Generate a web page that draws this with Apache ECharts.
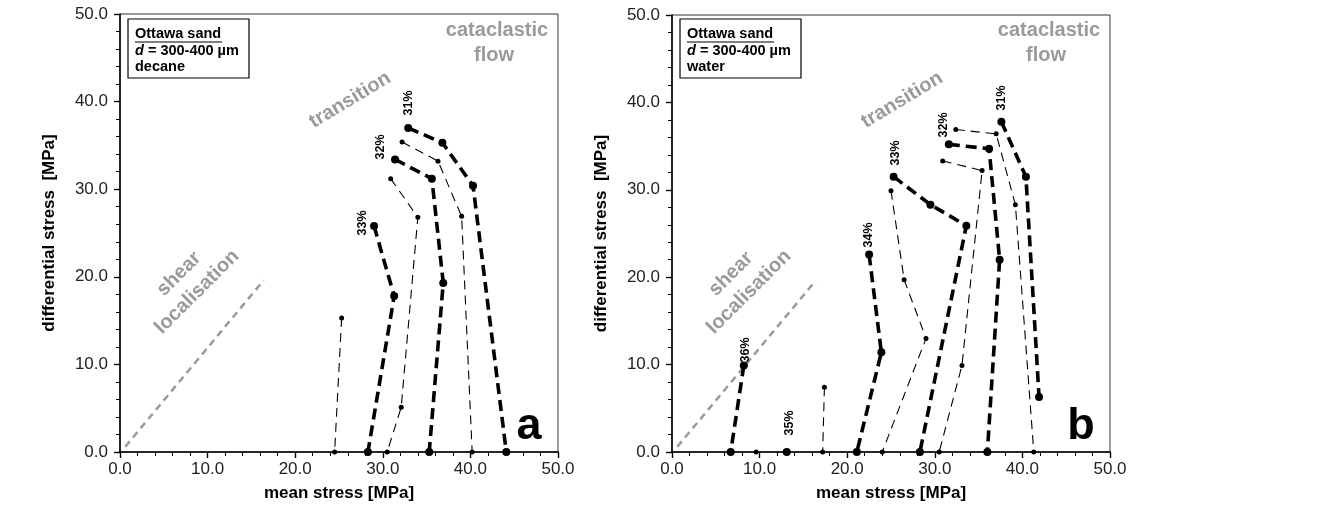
<!DOCTYPE html>
<html>
<head>
<meta charset="utf-8">
<script src="https://cdn.jsdelivr.net/npm/echarts@6/dist/echarts.min.js"></script>
<style>html,body{margin:0;padding:0;background:#fff}#c{width:1321px;height:507px}</style>
</head>
<body>
<div id="c"></div>
<script>
// ---------- data (mean stress [MPa], differential stress [MPa]) ----------
const tickValues = [0, 10, 20, 30, 40, 50];
const shearLine = [[0.6, 0.6], [16.4, 19.6]];

// panel a (decane)
const a33Thick = [[29.0, 25.8], [31.3, 17.8], [28.3, 0]];
const a25Thin  = [[25.3, 15.3], [24.5, 0]];
const a32Thin  = [[30.9, 31.2], [34.0, 26.8], [32.1, 5.1], [30.5, 0]];
const a32Thick = [[31.4, 33.4], [35.6, 31.2], [36.9, 19.3], [35.3, 0]];
const a31Thin  = [[32.2, 35.4], [36.3, 33.2], [39.0, 26.9], [40.2, 0]];
const a31Thick = [[32.9, 37.0], [36.8, 35.3], [40.3, 30.4], [44.1, 0]];

// panel b (water)
const b36Thick = [[8.2, 9.9], [6.7, 0]];
const b9Thin   = [[9.6, 0]];
const b35Thick = [[13.1, 0]];
const b17Thin  = [[17.4, 7.4], [17.2, 0]];
const b34Thick = [[22.5, 22.6], [23.9, 11.4], [21.1, 0]];
const b33Thin  = [[25.0, 29.9], [26.5, 19.7], [29.0, 13.0], [24.0, 0]];
const b33Thick = [[25.3, 31.5], [29.5, 28.3], [33.6, 25.9], [28.3, 0]];
const b32Thin  = [[30.9, 33.3], [35.4, 32.2], [33.1, 9.9], [30.5, 0]];
const b32Thick = [[31.6, 35.2], [36.2, 34.7], [37.4, 22.0], [36.0, 0]];
const b31Thin  = [[32.4, 36.9], [37.0, 36.4], [39.2, 28.3], [41.3, 0]];
const b31Thick = [[37.6, 37.8], [40.4, 31.5], [41.9, 6.3]];

const panelA = { thick: [a33Thick, a32Thick, a31Thick], thin: [a25Thin, a32Thin, a31Thin] };
const panelB = { thick: [b36Thick, b35Thick, b34Thick, b33Thick, b32Thick, b31Thick], thin: [b9Thin, b17Thin, b33Thin, b32Thin, b31Thin] };

const porosityA = ['33%', '32%', '31%'];
const porosityB = ['36%', '35%', '34%', '33%', '32%', '31%'];
const fluids = ['decane', 'water'];
const panelLetters = ['a', 'b'];

// ---------- layout ----------
const FONT = "'Liberation Sans', Arial, sans-serif";
const grids = [
  { left: 120, top: 14, width: 438, height: 438 },
  { left: 672, top: 15, width: 438, height: 437 }
];

function mainX(i) {
  return {
    gridIndex: i, type: 'value', min: 0, max: 50, interval: 10,
    name: 'mean stress [MPa]', nameLocation: 'middle', nameGap: 33,
    nameTextStyle: { fontFamily: FONT, fontWeight: 'bold', fontSize: 17, color: '#000' },
    axisLine: { show: true, onZero: false, lineStyle: { color: '#000', width: 1.5 } },
    axisTick: { show: true, inside: false, length: 6, lineStyle: { color: '#000', width: 1.2 } },
    minorTick: { show: true, splitNumber: 5, length: 4, lineStyle: { color: '#000', width: 1 } },
    axisLabel: { fontFamily: FONT, fontSize: 17, color: '#222', margin: 9, formatter: v => v.toFixed(1) },
    splitLine: { show: false }
  };
}
function mainY(i) {
  return {
    gridIndex: i, type: 'value', min: 0, max: 50, interval: 10,
    name: 'differential stress  [MPa]', nameLocation: 'middle', nameGap: 62, nameRotate: 90,
    nameTextStyle: { fontFamily: FONT, fontWeight: 'bold', fontSize: 17, color: '#000' },
    axisLine: { show: true, onZero: false, lineStyle: { color: '#000', width: 1.5 } },
    axisTick: { show: true, inside: false, length: 6, lineStyle: { color: '#000', width: 1.2 } },
    minorTick: { show: true, splitNumber: 5, length: 4, lineStyle: { color: '#000', width: 1 } },
    axisLabel: { fontFamily: FONT, fontSize: 17, color: '#222', margin: 12, formatter: v => v.toFixed(1) },
    splitLine: { show: false }
  };
}
function overlayAxis(i) {
  return {
    gridIndex: i, type: 'value', min: 0, max: 50, interval: 10,
    axisLine: { show: false },
    axisTick: { show: true, inside: true, length: 6, lineStyle: { color: '#000', width: 1.2 } },
    axisLabel: { show: false }, splitLine: { show: false }
  };
}

const series = [];
function addPanel(p, gi) {
  series.push({
    type: 'line', xAxisIndex: gi, yAxisIndex: gi, data: shearLine, symbol: 'none',
    lineStyle: { color: '#9a9a9a', width: 2.5, type: [7, 5] }, silent: true, z: 1
  });
  p.thin.forEach(d => series.push({
    type: 'line', xAxisIndex: gi, yAxisIndex: gi, data: d,
    symbol: 'circle', symbolSize: 5, showAllSymbol: true,
    itemStyle: { color: '#000' },
    lineStyle: { color: '#000', width: 1.1, type: [9, 6] }, z: 3
  }));
  p.thick.forEach(d => series.push({
    type: 'line', xAxisIndex: gi, yAxisIndex: gi, data: d,
    symbol: 'circle', symbolSize: 8, showAllSymbol: true,
    itemStyle: { color: '#000' },
    lineStyle: { color: '#000', width: 3.6, type: [11, 6] }, z: 4
  }));
}
addPanel(panelA, 0);
addPanel(panelB, 1);

// ---------- annotations ----------
const GRAY = '#9a9a9a';
function txt(text, x, y, opts) {
  opts = opts || {};
  return {
    type: 'text', x: x, y: y, rotation: opts.rot || 0, z: 10,
    style: {
      text: text, fill: opts.color || '#000',
      font: (opts.weight || 'bold') + ' ' + (opts.size || 20) + 'px ' + FONT,
      align: 'center', verticalAlign: 'middle', textAlign: 'center', textVerticalAlign: 'middle'
    }
  };
}
const graphics = [];
function annot(dx, labels, fluid, letter, labelPos) {
  graphics.push(txt('cataclastic', 497 + dx, 30, { color: GRAY }));
  graphics.push(txt('flow', 494 + dx, 55, { color: GRAY }));
  graphics.push(txt('transition', 350 + dx, 100, { color: GRAY, rot: 0.54 }));
  graphics.push(txt('shear', 179 + dx, 274, { color: GRAY, rot: 0.785 }));
  graphics.push(txt('localisation', 197 + dx, 292, { color: GRAY, rot: 0.785 }));
  graphics.push(txt(letter, 529 + dx, 427, { size: 45 }));
  labels.forEach((l, i) => graphics.push(txt(l, labelPos[i][0], labelPos[i][1], { size: 12.5, rot: Math.PI / 2 })));
  // info box
  const bx = 128 + dx, by = 19;
  graphics.push({ type: 'rect', z: 10, shape: { x: bx, y: by, width: 121, height: 59 },
    style: { fill: '#fff', stroke: '#000', lineWidth: 1.2 } });
  graphics.push({ type: 'text', z: 11, x: bx + 7, y: by + 7, style: {
    text: 'Ottawa sand\n{i|d} = 300-400 µm\n' + fluid,
    font: 'bold 14.5px ' + FONT, fill: '#000', lineHeight: 16.5,
    rich: { i: { fontStyle: 'italic', fontWeight: 'bold', fontSize: 14.5, fontFamily: FONT } }
  } });
  graphics.push({ type: 'line', z: 11, shape: { x1: bx + 7, y1: by + 23, x2: bx + 94, y2: by + 23 },
    style: { stroke: '#000', lineWidth: 1.2 } });
}
annot(0, porosityA, fluids[0], panelLetters[0], [[363, 223], [381, 147], [409, 103]]);
annot(552, porosityB, fluids[1], panelLetters[1], [[746, 350], [790, 423], [869, 235], [896, 153], [944, 125], [1002, 98]]);

const chart = echarts.init(document.getElementById('c'), null, { renderer: 'canvas' });
chart.setOption({
  animation: false,
  backgroundColor: '#fff',
  grid: grids.map(g => Object.assign({ show: true, borderColor: '#333', borderWidth: 1, backgroundColor: 'transparent' }, g)),
  xAxis: [mainX(0), mainX(1), overlayAxis(0), overlayAxis(1)],
  yAxis: [mainY(0), mainY(1), overlayAxis(0), overlayAxis(1)],
  series: series,
  graphic: graphics
});
</script>
</body>
</html>
